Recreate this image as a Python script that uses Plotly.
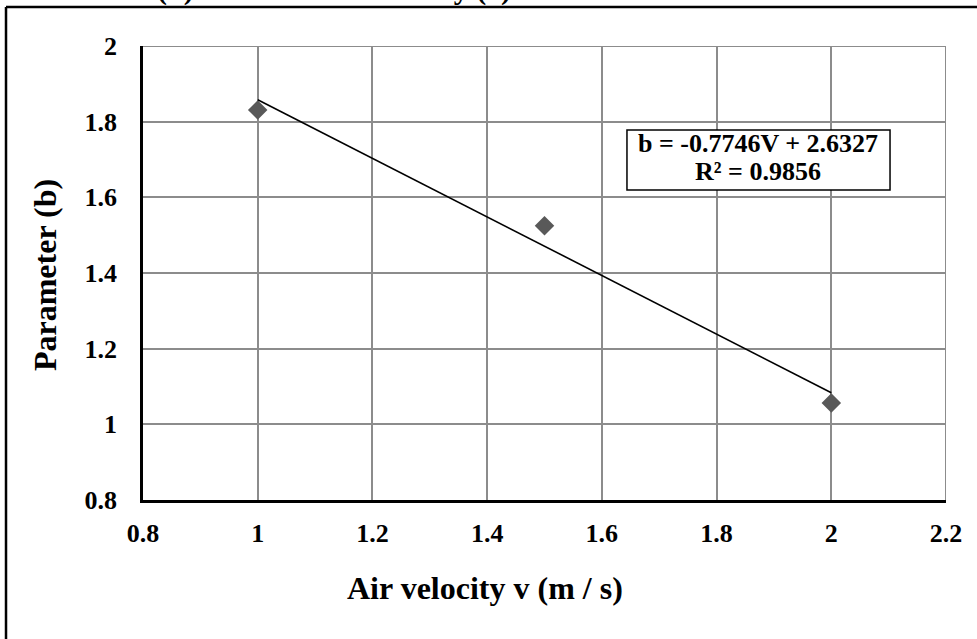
import numpy as np
import plotly.graph_objects as go

# Data
velocity = [1.0, 1.5, 2.0]
param_b = [1.831, 1.525, 1.0565]
x_ticks = [0.8, 1, 1.2, 1.4, 1.6, 1.8, 2, 2.2]
x_tick_text = ["0.8", "1", "1.2", "1.4", "1.6", "1.8", "2", "2.2"]
y_ticks = [0.8, 1, 1.2, 1.4, 1.6, 1.8, 2]
y_tick_text = ["0.8", "1", "1.2", "1.4", "1.6", "1.8", "2"]
eq_line1 = "b = -0.7746V + 2.6327"
eq_line2 = "R² = 0.9856"
x_title = "Air velocity v (m / s)"
y_title = "Parameter (b)"
caption_fragment = "(b) and the total velocity (v)."

slope, intercept = np.polyfit(velocity, param_b, 1)
fit_x = [min(velocity), max(velocity)]
fit_y = [slope * v + intercept for v in fit_x]

FONT = "Liberation Serif, Times New Roman, serif"

fig = go.Figure()
fig.add_trace(go.Scatter(x=fit_x, y=fit_y, mode="lines",
                         line=dict(color="black", width=1.6),
                         hoverinfo="skip", showlegend=False))
fig.add_trace(go.Scatter(x=velocity, y=param_b, mode="markers",
                         marker=dict(symbol="diamond", size=15, color="#595959",
                                     line=dict(width=0)),
                         showlegend=False))

fig.update_layout(
    width=977, height=639,
    margin=dict(l=143, r=31, t=46, b=139),
    paper_bgcolor="white", plot_bgcolor="white",
    font=dict(family=FONT, color="black"),
    xaxis=dict(range=[0.8, 2.2], tickvals=x_ticks, ticktext=x_tick_text,
               showgrid=True, gridcolor="#8c8c8c", gridwidth=2,
               showline=True, linecolor="black", linewidth=2.5,
               ticks="", ticklabelstandoff=8, zeroline=False,
               tickfont=dict(size=26, family=FONT, weight="bold")),
    yaxis=dict(range=[0.8, 2.0], tickvals=y_ticks, ticktext=y_tick_text,
               showgrid=True, gridcolor="#8c8c8c", gridwidth=2,
               showline=True, linecolor="black", linewidth=2.5,
               ticks="", ticklabelstandoff=18, zeroline=False,
               tickfont=dict(size=26, family=FONT, weight="bold")),
)

# top/right gridlines at range ends
fig.add_shape(type="line", xref="paper", yref="y", x0=0, x1=1, y0=2.0, y1=2.0,
              line=dict(color="#8c8c8c", width=2), layer="below")
fig.add_shape(type="line", xref="x", yref="paper", x0=2.2, x1=2.2, y0=0, y1=1,
              line=dict(color="#8c8c8c", width=2), layer="below")

# outer frame (left and top edges visible)
fig.add_shape(type="line", xref="paper", yref="paper",
              x0=-0.1706, x1=-0.1706, y0=1.0859, y1=-0.35,
              line=dict(color="black", width=2.5))
fig.add_shape(type="line", xref="paper", yref="paper",
              x0=-0.1706, x1=1.06, y0=1.0859, y1=1.0859,
              line=dict(color="black", width=2.5))

# equation box
fig.add_shape(type="rect", xref="paper", yref="paper",
              x0=0.6027, x1=0.9303, y0=0.6828, y1=0.8150,
              line=dict(color="black", width=1.5), fillcolor="white", layer="above")
fig.add_annotation(text=eq_line1, xref="paper", yref="paper", x=0.7659, y=0.7863,
                   xanchor="center", yanchor="middle", showarrow=False,
                   font=dict(size=26, family=FONT, weight="bold"))
fig.add_annotation(text=eq_line2, xref="paper", yref="paper", x=0.7659, y=0.7225,
                   xanchor="center", yanchor="middle", showarrow=False,
                   font=dict(size=26, family=FONT, weight="bold"))

fig.add_annotation(text=x_title, xref="paper", yref="paper", x=0.426, y=-0.1938,
                   xanchor="center", yanchor="middle",
                   showarrow=False, font=dict(size=32, family=FONT, weight="bold"))
fig.add_annotation(text=y_title, xref="paper", yref="paper", x=-0.122, y=0.4956,
                   xanchor="center", yanchor="middle",
                   showarrow=False, textangle=-90,
                   font=dict(size=32, family=FONT, weight="bold"))
fig.add_annotation(text=caption_fragment, xref="paper", yref="paper",
                   x=(155 - 143) / 803, y=1 + (46 - 8) / 454, xanchor="left",
                   yanchor="bottom", showarrow=False,
                   font=dict(size=30, family=FONT, weight="bold"))

fig.write_html("out.html")
